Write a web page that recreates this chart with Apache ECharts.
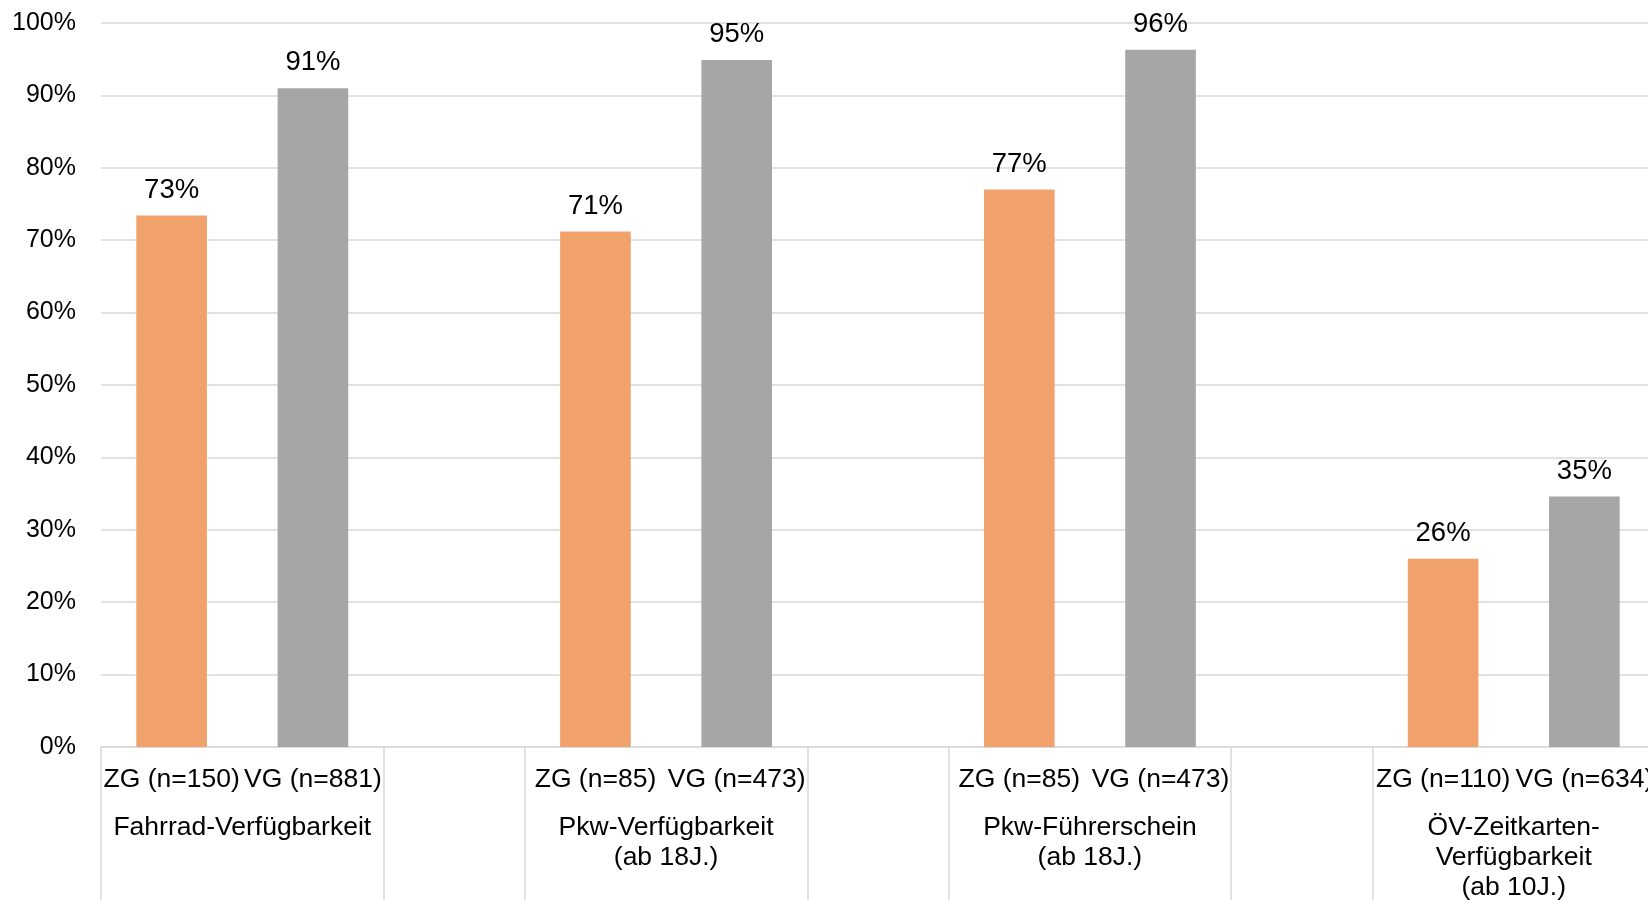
<!DOCTYPE html>
<html>
<head>
<meta charset="utf-8">
<script src="https://cdn.jsdelivr.net/npm/echarts@6/dist/echarts.min.js"></script>
<style>
  html, body { margin: 0; padding: 0; background: #fff; }
  #chart { width: 1648px; height: 900px; }
</style>
</head>
<body>
<div id="chart"></div>
<script>
// Gruppen (obere Ebene) und Teilgruppen-Beschriftungen
const groups = ['Fahrrad-Verfügbarkeit', 'Pkw-Verfügbarkeit\n(ab 18J.)', 'Pkw-Führerschein\n(ab 18J.)', 'ÖV-Zeitkarten-\nVerfügbarkeit\n(ab 10J.)']
const zgLabels = ['ZG (n=150)', 'ZG (n=85)', 'ZG (n=85)', 'ZG (n=110)']
const vgLabels = ['VG (n=881)', 'VG (n=473)', 'VG (n=473)', 'VG (n=634)']
// Anteile in %
const zgValues = [73.4, 71.2, 77.0, 26.0]
const vgValues = [91.0, 94.9, 96.3, 34.6]
const yTicks = [0, 10, 20, 30, 40, 50, 60, 70, 80, 90, 100]

// Kategorien: ZG, VG, Leerspalte, ZG, VG, ...
const categories = []
const zgData = []
const vgData = []
const groupCenters = []
const groupBounds = [0]
groups.forEach((g, i) => {
  const start = categories.length
  categories.push(zgLabels[i], vgLabels[i])
  zgData.push(zgValues[i], null)
  vgData.push(null, vgValues[i])
  groupCenters.push(start + 1)
  groupBounds.push(start + 2)
  if (i < groups.length - 1) {
    categories.push('')
    zgData.push(null)
    vgData.push(null)
    groupBounds.push(start + 3)
  }
})

const font = 'Liberation Sans, Arial, sans-serif'
const gray = '#d9d9d9'

const barLabel = {
  show: true, position: 'top', distance: 11.5,
  formatter: (p) => Math.round(p.value) + '%',
  color: '#000', fontSize: 27.5, fontFamily: font
}

const chart = echarts.init(document.getElementById('chart'))
chart.setOption({
  animation: false,
  textStyle: { fontFamily: font },
  grid: { left: 101, top: 23, width: 1554, height: 724, containLabel: false, outerBoundsMode: 'none' },
  xAxis: [
    {
      type: 'category',
      data: categories,
      axisLine: { show: true, lineStyle: { color: gray, width: 1.5 } },
      axisTick: { show: false },
      axisLabel: { interval: 0, color: '#000', fontSize: 26.5, fontFamily: font, margin: 17.5, lineHeight: 30 }
    },
    {
      type: 'value',
      position: 'bottom',
      min: 0,
      max: categories.length,
      axisLine: { show: false },
      splitLine: { show: false },
      axisTick: {
        show: true,
        customValues: groupBounds,
        length: 160,
        lineStyle: { color: gray, width: 1.5 }
      },
      axisLabel: {
        customValues: groupCenters,
        formatter: (v) => groups[groupCenters.indexOf(v)],
        color: '#000', fontSize: 26.5, fontFamily: font,
        margin: 66, lineHeight: 30, align: 'center'
      }
    }
  ],
  yAxis: {
    type: 'value',
    min: yTicks[0],
    max: yTicks[yTicks.length - 1],
    interval: yTicks[1] - yTicks[0],
    axisLine: { show: false },
    axisTick: { show: false },
    splitLine: { lineStyle: { color: gray, width: 1.5 } },
    axisLabel: { formatter: '{value}%', color: '#000', fontSize: 25, fontFamily: font, margin: 25 }
  },
  series: [
    {
      name: 'ZG',
      type: 'bar',
      data: zgData,
      barWidth: '50%',
      barGap: '-100%',
      itemStyle: { color: '#f1a16c' },
      label: barLabel
    },
    {
      name: 'VG',
      type: 'bar',
      data: vgData,
      barWidth: '50%',
      barGap: '-100%',
      itemStyle: { color: '#a6a6a6' },
      label: barLabel
    }
  ]
})
</script>
</body>
</html>
